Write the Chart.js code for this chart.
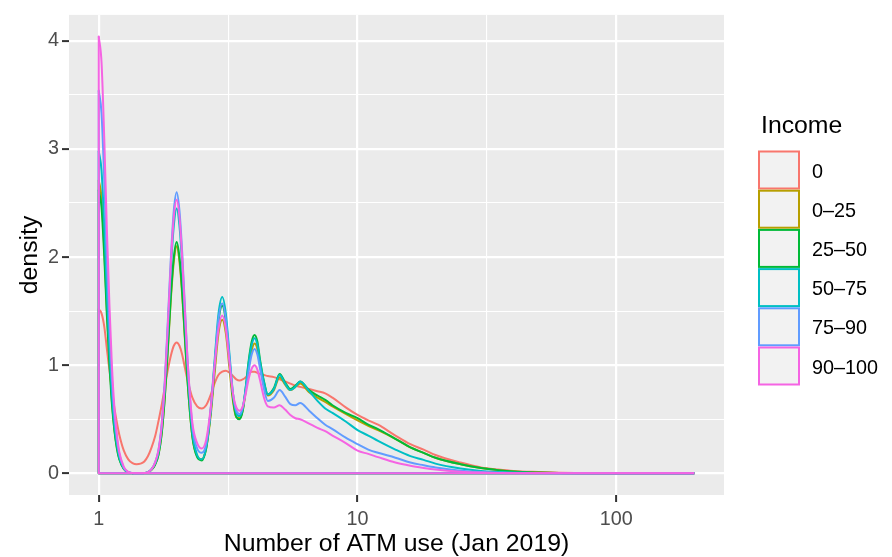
<!DOCTYPE html>
<html>
<head>
<meta charset="utf-8">
<script src="https://cdn.jsdelivr.net/npm/chart.js@4.4.1/dist/chart.umd.min.js"></script>
<style>
  html, body { margin: 0; padding: 0; background: #ffffff; }
  canvas { display: block; }
</style>
</head>
<body>
<canvas id="atmChart" width="892" height="557"></canvas>
<script>
// Number of ATM uses (log scale) at which each density estimate is evaluated
const atmUses = [1, 1.025, 1.05, 1.075, 1.1, 1.125, 1.15, 1.175, 1.2,
  1.25, 1.3, 1.35, 1.4, 1.45, 1.5, 1.55, 1.6, 1.65, 1.7, 1.75, 1.8, 1.85, 1.9, 1.95,
  2, 2.05, 2.1, 2.15, 2.2,
  2.3, 2.4, 2.5, 2.6, 2.7, 2.8, 2.9, 3, 3.1, 3.2, 3.3, 3.4, 3.5, 3.6, 3.7, 3.8, 3.9, 4, 4.1, 4.2,
  4.35, 4.5, 4.75, 5, 5.25, 5.5, 5.75, 6,
  6.5, 7, 7.5, 8, 9, 10, 11, 12, 14, 16, 18, 20, 25, 30, 35, 40, 50, 60, 80, 100, 150, 200];

// Density per income group
const income0 = [1.52, 1.48, 1.36, 1.15, 0.95, 0.77, 0.60, 0.47, 0.36,
  0.21, 0.13, 0.095, 0.085, 0.09, 0.11, 0.16, 0.24, 0.34, 0.48, 0.63, 0.80, 0.96, 1.09, 1.18,
  1.21, 1.18, 1.10, 0.98, 0.87,
  0.70, 0.62, 0.60, 0.63, 0.72, 0.83, 0.91, 0.94, 0.95, 0.93, 0.90, 0.87, 0.86, 0.87, 0.89, 0.92, 0.94, 0.94, 0.93, 0.92,
  0.91, 0.90, 0.89, 0.87, 0.85, 0.83, 0.81, 0.80,
  0.78, 0.76, 0.74, 0.70, 0.61, 0.54, 0.49, 0.45, 0.35, 0.27, 0.22, 0.17, 0.10, 0.055, 0.035, 0.022, 0.012, 0.006, 0.002, 0.001, 0, 0];

const income0to25 = [2.71, 2.55, 2.08, 1.51, 1.04, 0.66, 0.40, 0.24, 0.14,
  0.04, 0.01, 0.002, 0, 0, 0.003, 0.01, 0.035, 0.08, 0.17, 0.36, 0.70, 1.15, 1.62, 1.96,
  2.10, 1.96, 1.66, 1.26, 0.87,
  0.34, 0.16, 0.13, 0.23, 0.51, 0.91, 1.29, 1.42, 1.29, 0.97, 0.67, 0.52, 0.51, 0.58, 0.77, 0.99, 1.14, 1.20, 1.15, 1.00,
  0.82, 0.72, 0.77, 0.89, 0.82, 0.77, 0.80, 0.83,
  0.75, 0.70, 0.66, 0.62, 0.55, 0.49, 0.44, 0.40, 0.32, 0.24, 0.19, 0.145, 0.085, 0.05, 0.03, 0.018, 0.008, 0.003, 0.001, 0, 0, 0];

const income25to50 = [2.62, 2.46, 2.01, 1.46, 1.00, 0.63, 0.39, 0.23, 0.13,
  0.04, 0.01, 0.002, 0, 0, 0.003, 0.01, 0.035, 0.08, 0.17, 0.37, 0.71, 1.17, 1.65, 2.00,
  2.14, 2.00, 1.69, 1.28, 0.88,
  0.34, 0.15, 0.12, 0.23, 0.54, 0.98, 1.40, 1.55, 1.40, 1.04, 0.70, 0.52, 0.50, 0.58, 0.80, 1.05, 1.22, 1.28, 1.22, 1.05,
  0.85, 0.73, 0.79, 0.92, 0.84, 0.78, 0.81, 0.85,
  0.77, 0.72, 0.68, 0.63, 0.56, 0.51, 0.45, 0.41, 0.32, 0.24, 0.19, 0.145, 0.085, 0.05, 0.03, 0.018, 0.008, 0.003, 0.001, 0, 0, 0];

const income50to75 = [2.98, 2.80, 2.29, 1.66, 1.14, 0.72, 0.44, 0.27, 0.15,
  0.045, 0.011, 0.002, 0, 0, 0.003, 0.012, 0.04, 0.09, 0.19, 0.42, 0.81, 1.34, 1.89, 2.29,
  2.45, 2.29, 1.93, 1.46, 1.00,
  0.38, 0.17, 0.13, 0.24, 0.56, 1.03, 1.47, 1.63, 1.47, 1.10, 0.74, 0.56, 0.53, 0.60, 0.80, 1.03, 1.19, 1.25, 1.19, 1.03,
  0.84, 0.73, 0.78, 0.91, 0.83, 0.77, 0.80, 0.85,
  0.76, 0.67, 0.60, 0.56, 0.48, 0.40, 0.35, 0.30, 0.22, 0.16, 0.125, 0.09, 0.045, 0.022, 0.012, 0.007, 0.003, 0.001, 0, 0, 0, 0];

const income75to90 = [3.54, 3.33, 2.72, 1.97, 1.36, 0.86, 0.53, 0.32, 0.18,
  0.05, 0.013, 0.003, 0, 0, 0.003, 0.012, 0.04, 0.10, 0.21, 0.45, 0.86, 1.42, 2.00, 2.43,
  2.60, 2.43, 2.05, 1.56, 1.08,
  0.43, 0.23, 0.19, 0.27, 0.56, 1.00, 1.42, 1.57, 1.42, 1.07, 0.74, 0.58, 0.55, 0.61, 0.77, 0.96, 1.10, 1.15, 1.10, 0.97,
  0.78, 0.67, 0.70, 0.77, 0.71, 0.64, 0.63, 0.65,
  0.58, 0.51, 0.45, 0.41, 0.33, 0.27, 0.22, 0.19, 0.145, 0.10, 0.075, 0.055, 0.025, 0.012, 0.006, 0.003, 0.001, 0, 0, 0, 0, 0];

const income90to100 = [4.04, 3.80, 3.10, 2.25, 1.55, 0.98, 0.60, 0.36, 0.20,
  0.06, 0.015, 0.003, 0, 0, 0.003, 0.012, 0.04, 0.10, 0.21, 0.44, 0.83, 1.38, 1.95, 2.37,
  2.53, 2.37, 2.00, 1.52, 1.07,
  0.47, 0.28, 0.23, 0.31, 0.58, 0.98, 1.33, 1.46, 1.33, 1.02, 0.74, 0.61, 0.58, 0.62, 0.74, 0.88, 0.97, 1.00, 0.96, 0.86,
  0.70, 0.62, 0.61, 0.63, 0.59, 0.54, 0.51, 0.50,
  0.46, 0.42, 0.39, 0.35, 0.28, 0.21, 0.18, 0.15, 0.10, 0.07, 0.05, 0.035, 0.015, 0.007, 0.003, 0.002, 0.001, 0, 0, 0, 0, 0];

const incomeGroups = ['0', '0–25', '25–50', '50–75', '75–90', '90–100'];
const incomeSeries = [income0, income0to25, income25to50, income50to75, income75to90, income90to100];
const incomeColors = ['#F8766D', '#B79F00', '#00BA38', '#00BFC4', '#619CFF', '#F564E3'];

// Axis ticks
const xTickValues = [1, 10, 100];
const xTickLabels = ['1', '10', '100'];
const xMinorValues = [3.1623, 31.623];
const yTickValues = [0, 1, 2, 3, 4];
const yMinorValues = [0.5, 1.5, 2.5, 3.5];

const FONT = '"Liberation Sans", Arial, Helvetica, sans-serif';
const TITLE_SIZE = 24.8;
const TEXT_SIZE = 19.8;

// Smooth density curve
function densityCurve(values) {
  return atmUses.map((x, i) => ({ x: x, y: values[i] }));
}

// Straight edges of the density outline: left edge, zero line, right edge
function densityFrame(values) {
  const n = atmUses.length - 1;
  return [
    { x: atmUses[0], y: values[0] },
    { x: atmUses[0], y: 0 },
    { x: atmUses[n], y: 0 },
    { x: atmUses[n], y: values[n] }
  ];
}

const panelBackground = {
  id: 'panelBackground',
  beforeDraw(chart) {
    const { ctx, chartArea: a } = chart;
    ctx.save();
    ctx.fillStyle = '#EBEBEB';
    ctx.fillRect(a.left, a.top, a.right - a.left, a.bottom - a.top);
    ctx.restore();
  }
};

const incomeLegend = {
  id: 'incomeLegend',
  afterDraw(chart) {
    const ctx = chart.ctx;
    ctx.save();
    ctx.textAlign = 'left';
    ctx.textBaseline = 'alphabetic';
    ctx.fillStyle = '#000000';
    ctx.font = TITLE_SIZE + 'px ' + FONT;
    ctx.fillText('Income', 761, 133);
    ctx.font = TEXT_SIZE + 'px ' + FONT;
    chart.data.datasets.filter(ds => !ds.isFrame).forEach((ds, i) => {
      const y = 151.5 + i * 39.2;
      ctx.fillStyle = '#F2F2F2';
      ctx.fillRect(759, y, 40, 37);
      ctx.strokeStyle = ds.borderColor;
      ctx.lineWidth = 2;
      ctx.strokeRect(759, y, 40, 37);
      ctx.fillStyle = '#000000';
      ctx.fillText(ds.label, 812, y + 18.5 + 7.5);
    });
    ctx.restore();
  }
};

const curveSets = incomeGroups.map((name, i) => ({
  label: name,
  data: densityCurve(incomeSeries[i]),
  borderColor: incomeColors[i],
  backgroundColor: incomeColors[i],
  borderWidth: 2,
  showLine: true,
  fill: false,
  cubicInterpolationMode: 'monotone',
  pointRadius: 0,
  borderJoinStyle: 'round',
  order: 2 * (incomeGroups.length - i)
}));

const frameSets = incomeGroups.map((name, i) => ({
  label: name + ' outline',
  isFrame: true,
  data: densityFrame(incomeSeries[i]),
  borderColor: incomeColors[i],
  backgroundColor: incomeColors[i],
  borderWidth: 2,
  showLine: true,
  fill: false,
  tension: 0,
  pointRadius: 0,
  borderJoinStyle: 'round',
  order: 2 * (incomeGroups.length - i) + 1
}));

const isMajorX = v => xTickValues.some(t => Math.abs(t - v) < 1e-6);
const isMajorY = v => yTickValues.some(t => Math.abs(t - v) < 1e-6);

new Chart(document.getElementById('atmChart'), {
  type: 'scatter',
  data: { datasets: curveSets.concat(frameSets) },
  plugins: [panelBackground, incomeLegend],
  options: {
    responsive: false,
    animation: false,
    devicePixelRatio: 1,
    events: [],
    layout: { padding: { left: 0, right: 168, top: 6, bottom: 0 } },
    plugins: { legend: { display: false }, tooltip: { enabled: false } },
    scales: {
      x: {
        type: 'logarithmic',
        min: Math.pow(10, -0.115),
        max: Math.pow(10, 2.416),
        afterBuildTicks: s => {
          s.ticks = xTickValues.concat(xMinorValues).sort((a, b) => a - b).map(v => ({ value: v }));
        },
        afterFit: s => { s.height = 62; },
        border: { display: false },
        grid: {
          color: '#FFFFFF',
          lineWidth: c => (c.tick && isMajorX(c.tick.value)) ? 2.2 : 1.1,
          drawTicks: true,
          tickLength: 7,
          tickWidth: 2,
          tickColor: c => (c.tick && isMajorX(c.tick.value)) ? '#333333' : 'rgba(0,0,0,0)'
        },
        ticks: {
          autoSkip: false,
          maxRotation: 0,
          minRotation: 0,
          padding: 6,
          color: '#4D4D4D',
          font: { size: TEXT_SIZE, family: FONT },
          callback: v => {
            const k = xTickValues.findIndex(t => Math.abs(t - v) < 1e-6);
            return k >= 0 ? xTickLabels[k] : '';
          }
        },
        title: {
          display: true,
          text: 'Number of ATM use (Jan 2019)',
          color: '#000000',
          font: { size: TITLE_SIZE, family: FONT, lineHeight: 1 },
          padding: { top: 0, bottom: 0 }
        }
      },
      y: {
        type: 'linear',
        min: -0.2,
        max: 4.24,
        afterBuildTicks: s => {
          s.ticks = yTickValues.concat(yMinorValues).sort((a, b) => a - b).map(v => ({ value: v }));
        },
        afterFit: s => { s.width = 69; },
        border: { display: false },
        grid: {
          color: '#FFFFFF',
          lineWidth: c => (c.tick && isMajorY(c.tick.value)) ? 2.2 : 1.1,
          drawTicks: true,
          tickLength: 7,
          tickWidth: 2,
          tickColor: c => (c.tick && isMajorY(c.tick.value)) ? '#333333' : 'rgba(0,0,0,0)'
        },
        ticks: {
          autoSkip: false,
          padding: 3,
          color: '#4D4D4D',
          font: { size: TEXT_SIZE, family: FONT },
          callback: v => isMajorY(v) ? String(v) : ''
        },
        title: {
          display: true,
          text: 'density',
          color: '#000000',
          font: { size: TITLE_SIZE, family: FONT, lineHeight: 1 },
          padding: { top: 18, bottom: 0 }
        }
      }
    }
  }
});
</script>
</body>
</html>
